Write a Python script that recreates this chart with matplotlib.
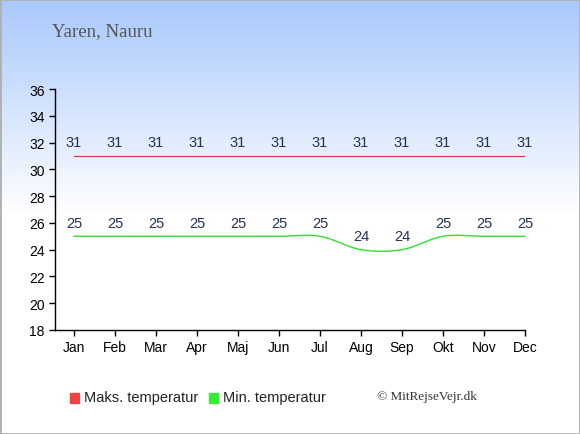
import numpy as np
import matplotlib
matplotlib.use("Agg")
import matplotlib.pyplot as plt
from matplotlib.patches import Rectangle

months = ["Jan", "Feb", "Mar", "Apr", "Maj", "Jun", "Jul", "Aug", "Sep", "Okt", "Nov", "Dec"]
max_temp = [31, 31, 31, 31, 31, 31, 31, 31, 31, 31, 31, 31]
min_temp = [25, 25, 25, 25, 25, 25, 25, 24, 24, 25, 25, 25]
y_ticks = [18, 20, 22, 24, 26, 28, 30, 32, 34, 36]


def smooth(vals, n=20):
    # catmull-rom through the monthly points
    p = np.array(vals, dtype=float)
    p = np.concatenate([[p[0]], p, [p[-1]]])
    xs, ys = [], []
    for i in range(1, len(p) - 2):
        t = np.linspace(0, 1, n, endpoint=False)
        p0, p1, p2, p3 = p[i - 1], p[i], p[i + 1], p[i + 2]
        y = 0.5 * ((2 * p1) + (-p0 + p2) * t + (2 * p0 - 5 * p1 + 4 * p2 - p3) * t ** 2
                   + (-p0 + 3 * p1 - 3 * p2 + p3) * t ** 3)
        xs.extend(i - 1 + t)
        ys.extend(y)
    xs.append(len(vals) - 1)
    ys.append(vals[-1])
    return np.array(xs), np.array(ys)


fig = plt.figure(figsize=(5.8, 4.35), dpi=100)

# background gradient
bg = fig.add_axes([0, 0, 1, 1])
grad = np.ones((435, 1, 3))
top = np.array([0xa8, 0xc8, 0xfc]) / 255
for r in range(435):
    f = min(r / 215.0, 1.0)
    grad[r, 0] = top * (1 - f) + np.array([1, 1, 1]) * f
bg.imshow(grad, aspect="auto", extent=[0, 1, 0, 1])
bg.add_patch(Rectangle((0, 0), 1, 1, fill=False, edgecolor="#b0b0b0", lw=2, transform=bg.transAxes))
bg.axis("off")

W, H = 580, 435
ax = fig.add_axes([55 / W, 1 - 331 / H, (525 - 55) / W, (331 - 90) / H])
ax.patch.set_alpha(0)
x = np.arange(len(months))
ax.set_xlim(-19 / 41, 11)
ax.set_ylim(18, 36)

ax.plot(x, max_temp, color="#d04048", lw=0.9)
sx, sy = smooth(min_temp)
ax.plot(sx, sy, color="#33dd33", lw=1.0)

for i in x:
    ax.text(i, max_temp[i] + 0.5, str(max_temp[i]), ha="center", va="bottom",
            fontsize=10.5, color="#223355", family="Liberation Sans")
    ax.text(i, min_temp[i] + 0.5, str(min_temp[i]), ha="center", va="bottom",
            fontsize=10.5, color="#223355", family="Liberation Sans")

for s in ["top", "right"]:
    ax.spines[s].set_visible(False)
ax.spines["left"].set_linewidth(1)
ax.spines["bottom"].set_linewidth(1)
ax.set_yticks(y_ticks)
ax.set_xticks(x)
ax.set_xticklabels(months)
ax.tick_params(axis="both", length=4, width=1, labelsize=10, colors="black")
for lab in ax.get_xticklabels() + ax.get_yticklabels():
    lab.set_family("Liberation Sans")

fig.text(52 / W, 1 - 32 / H, "Yaren, Nauru", fontsize=13.5, color="#555555",
         family="Liberation Serif", va="center")

# legend
fig.patches.append(Rectangle((70 / W, 1 - 404 / H), 9 / W, 10 / H, color="#ee4444",
                             transform=fig.transFigure))
fig.text(84 / W, 1 - 398 / H, "Maks. temperatur", fontsize=10.5, va="center",
         family="Liberation Sans", color="#222222")
fig.patches.append(Rectangle((209 / W, 1 - 404 / H), 9 / W, 10 / H, color="#33ee33",
                             transform=fig.transFigure))
fig.text(223 / W, 1 - 398 / H, "Min. temperatur", fontsize=10.5, va="center",
         family="Liberation Sans", color="#222222")
fig.text(377 / W, 1 - 397 / H, "© MitRejseVejr.dk", fontsize=9.5, va="center",
         family="Liberation Serif", color="#333333")

fig.savefig("out.png", dpi=100)
